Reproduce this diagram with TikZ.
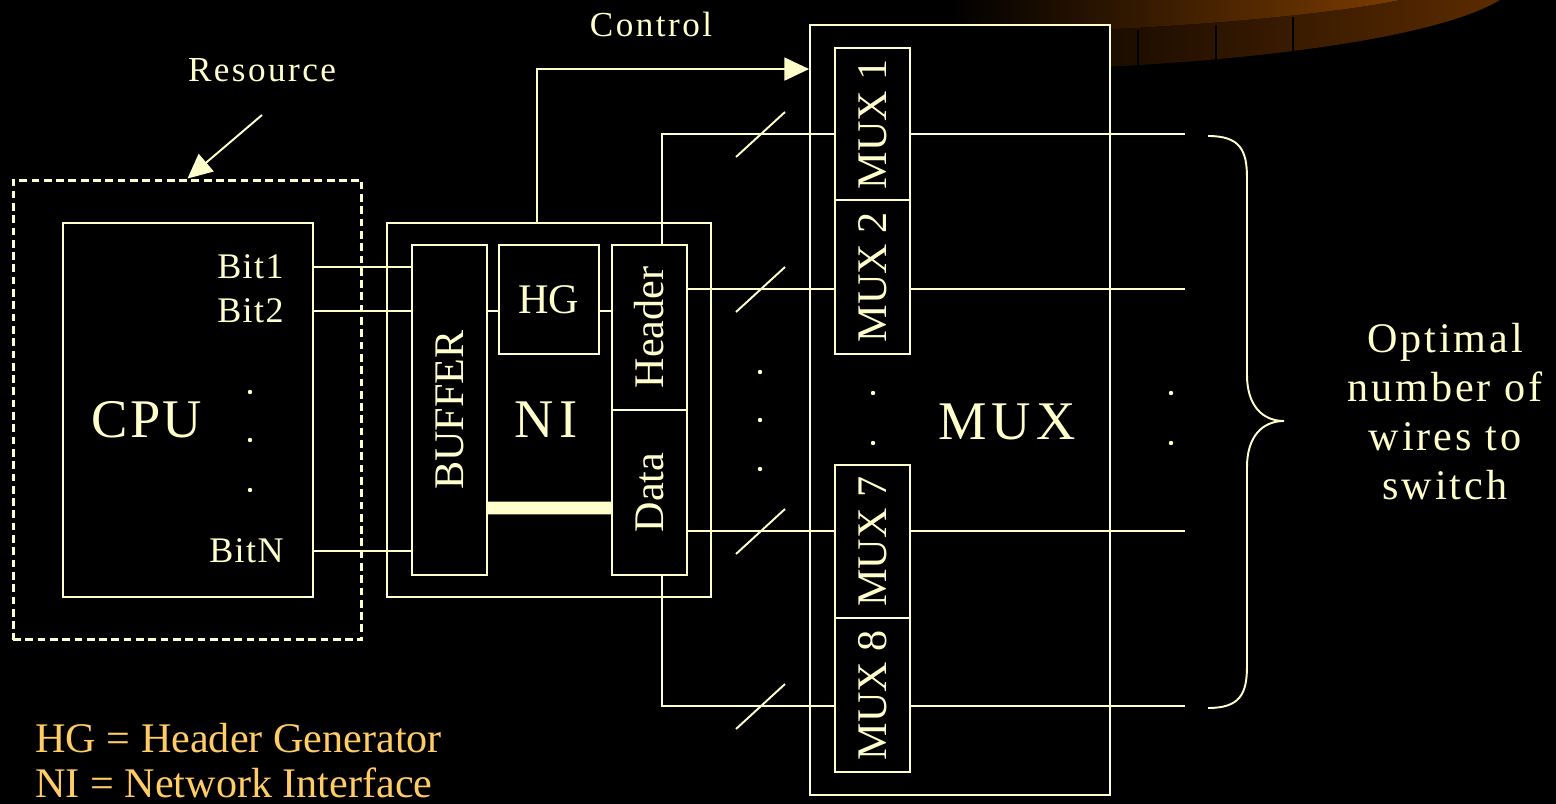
\documentclass[tikz,border=0pt]{standalone}
\usepackage{fontspec}
\usepackage{graphicx}
\setmainfont{Liberation Serif}
\newfontfamily\trackfont[LetterSpace=7]{Liberation Serif}
\newfontfamily\widefont[LetterSpace=10]{Liberation Serif}
\newfontfamily\slightfont[LetterSpace=4]{Liberation Serif}
\usetikzlibrary{arrows.meta}

\definecolor{cream}{HTML}{FFFFCC}
\definecolor{legendtxt}{HTML}{FFCC66}
\definecolor{rust}{HTML}{7C3C00}
\definecolor{umber}{HTML}{5C2B00}

\tikzset{
  blk/.style={draw=cream, line width=1.1pt, fill=black, inner sep=0pt, text=cream},
  wire/.style={draw=cream, line width=1.1pt},
  pointer/.style={wire, -{Triangle[length=14pt,width=13pt]}},
  lbl/.style={text=cream, inner sep=0pt},
  midfont/.style={font=\fontsize{24}{28}\selectfont},
  bigfont/.style={font=\widefont\fontsize{31}{36}\selectfont},
  dotmark/.style={fill=cream},
}

\begin{document}
\begin{tikzpicture}[x=0.02cm, y=-0.02cm]
  \fill[black] (0,0) rectangle (1556,804);
  \useasboundingbox (0,0) rectangle (1556,804);

  % slide decoration, top right
  \fill[left color=black, right color=umber] (950,0) -- (950,70) .. controls (1150,72) and (1420,48) .. (1500,0) -- cycle;
  \fill[left color=black, right color=rust] (950,0) -- (950,34) .. controls (1150,32) and (1330,15) .. (1400,0) -- cycle;
  \draw[black, line width=0.8pt] (1138,30) -- (1138,69) (1216,25) -- (1216,64) (1293,17) -- (1293,55);

  % resource: CPU
  \node[blk, fill=none, dash pattern=on 4.4pt off 2.6pt, line width=1.7pt, minimum width=6.98cm, minimum height=9.2cm] (rbox) at (187.5,410) {};
  \node[blk, minimum width=5cm, minimum height=7.48cm] (cpu) at (188,410) {};
  \node[lbl, font=\slightfont\fontsize{31}{36}\selectfont] (cpulbl) at (147,420) {CPU};
  \node[lbl, anchor=east, font=\slightfont\fontsize{20.5}{24}\selectfont] (bit1) at (284,267) {Bit1};
  \node[lbl, anchor=east, font=\slightfont\fontsize{20.5}{24}\selectfont] (bit2) at (284,311) {Bit2};
  \node[lbl, anchor=east, font=\slightfont\fontsize{20.5}{24}\selectfont] (bitn) at (284,551) {BitN};
  \foreach \y in {392,440,490}
    \fill[dotmark] (250,\y) circle (2.2);

  \node[lbl, anchor=base, font=\trackfont\fontsize{20}{24}\selectfont] (res) at (262,82) {Resource};
  \coordinate (rtail) at (262,115);
  \draw[pointer] (rtail) -- (rbox.north);

  % network interface
  \node[blk, minimum width=6.48cm, minimum height=7.48cm] (ni) at (549,410) {};
  \node[blk, midfont, minimum width=1.5cm, minimum height=6.6cm] (buf) at (449.5,410) {\rotatebox{90}{BUFFER}};
  \node[blk, midfont, minimum width=2cm, minimum height=2.18cm] (hg) at (549,299.5) {HG};
  \node[blk, midfont, minimum width=1.5cm, minimum height=3.3cm] (hdr) at (649.5,327.5) {\rotatebox{90}{Header}};
  \node[blk, midfont, minimum width=1.5cm, minimum height=3.3cm] (dat) at (649.5,492.5) {\rotatebox{90}{Data}};
  \node[lbl, bigfont] (nilbl) at (546,420) {NI};

  \draw[wire] (bit1 -| cpu.east) -- (bit1 -| buf.west);
  \draw[wire] (bit2 -| cpu.east) -- (bit2 -| buf.west);
  \draw[wire] (bitn -| cpu.east) -- (bitn -| buf.west);
  \draw[wire] (bit2 -| buf.east) -- (bit2 -| hg.west);
  \draw[wire] (bit2 -| hg.east) -- (bit2 -| hdr.west);
  \draw[cream, line width=7.2pt] ([yshift=-1.96cm]buf.east) -- ([yshift=-0.31cm]dat.west);

  % multiplexers
  \node[blk, minimum width=6cm, minimum height=15.4cm] (muxo) at (960,410) {};
  \node[blk, midfont, minimum width=1.5cm, minimum height=3.04cm] (mux1) at (872.5,124) {\rotatebox{90}{MUX 1}};
  \node[blk, midfont, minimum width=1.5cm, minimum height=3.08cm] (mux2) at (872.5,277) {\rotatebox{90}{MUX 2}};
  \node[blk, midfont, minimum width=1.5cm, minimum height=3.06cm] (mux7) at (872.5,541.5) {\rotatebox{90}{MUX 7}};
  \node[blk, midfont, minimum width=1.5cm, minimum height=3.08cm] (mux8) at (872.5,695) {\rotatebox{90}{MUX 8}};
  \node[lbl, bigfont] (muxlbl) at (1007,422) {MUX};

  \node[lbl, anchor=base, font=\trackfont\fontsize{20}{24}\selectfont] (ctrl) at (651,37) {Control};
  \draw[pointer] ([xshift=-0.24cm]ni.north) |- ([yshift=6.82cm]muxo.west);

  % wires to the switch
  \coordinate (s1) at (760,134);
  \coordinate (s2) at (760,289);
  \coordinate (s7) at (760,531);
  \coordinate (s8) at (760,706);
  \coordinate (e1) at (1185,134);
  \coordinate (e2) at (1185,289);
  \coordinate (e7) at (1185,531);
  \coordinate (e8) at (1185,706);
  \draw[wire] ([xshift=0.25cm]hdr.north) |- (s1) -- (s1 -| mux1.west);
  \draw[wire] (s2 -| hdr.east) -- (s2 -| mux2.west);
  \draw[wire] (s7 -| dat.east) -- (s7 -| mux7.west);
  \draw[wire] ([xshift=0.25cm]dat.south) |- (s8) -- (s8 -| mux8.west);
  \foreach \i in {1,2,7,8} {
    \draw[wire] (e\i -| mux\i.east) -- (e\i);
    \draw[wire] (s\i) ++(-24,23) -- ++(49,-45);
  }
  \foreach \y in {372,420,469}
    \fill[dotmark] (760,\y) circle (2.2);
  \foreach \y in {393,443} {
    \fill[dotmark] (873,\y) circle (2.2);
    \fill[dotmark] (1171,\y) circle (2.2);
  }

  % brace
  \draw[wire] (1208,136) .. controls (1240,136) and (1247,150) .. (1247,178) -- (1247,375)
    .. controls (1247,405) and (1262,421) .. (1284,421)
    .. controls (1262,421) and (1247,437) .. (1247,467) -- (1247,666)
    .. controls (1247,694) and (1240,708) .. (1208,708);
  \node[lbl, anchor=north, align=center, font=\trackfont\fontsize{24}{27.8}\selectfont] (opt) at (1445,323) {Optimal\\number of\\wires to\\switch};

  % legend
  \node[anchor=base west, inner sep=0pt, text=legendtxt, font=\fontsize{24}{28}\selectfont] (lghg) at (35,752) {HG = Header Generator};
  \node[anchor=base west, inner sep=0pt, text=legendtxt, font=\fontsize{24}{28}\selectfont] (lgni) at (35,797) {NI = Network Interface};
\end{tikzpicture}
\end{document}
